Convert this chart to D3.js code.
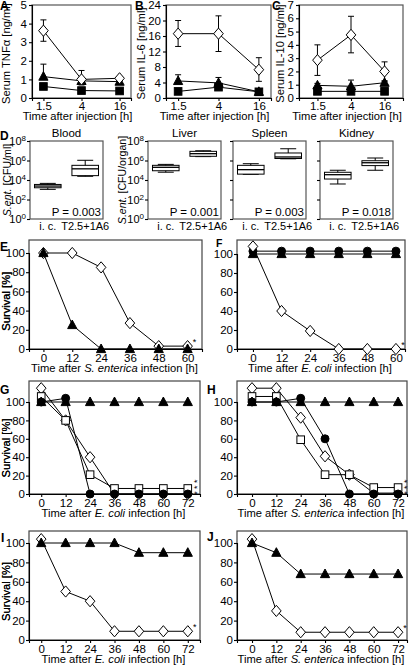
<!DOCTYPE html>
<html><head><meta charset="utf-8">
<script src="https://cdn.jsdelivr.net/npm/d3@7"></script>
<style>
body{margin:0;background:#fff}
svg{display:block;font-family:"Liberation Sans",Arial,Helvetica,sans-serif}
</style></head>
<body><svg id="c" width="411" height="668"></svg>
<script>
// ---------- data: cytokines (A-C) ----------
const cytoTimes = ["1.5", "4", "16"];
const tnfDiamond = [3.62, 1.0, 1.06], tnfDiamondHi = [4.2, 1.48, 1.15], tnfDiamondLo = [3.05, 0.7, 0.95];
const tnfTriangle = [1.15, 0.92, 0.88], tnfTriangleHi = [1.82, 1.0, 0.95];
const tnfSquare = [0.62, 0.4, 0.38];
const il6Diamond = [16.6, 16.6, 7.3], il6DiamondHi = [20.0, 21.2, 10.4], il6DiamondLo = [13.3, 12.0, 4.3];
const il6Triangle = [4.4, 3.9, 1.6], il6TriangleHi = [6.0, 5.3, 1.6];
const il6Square = [1.7, 2.8, 1.6], il6SquareHi = [1.7, 3.3, 1.6];
const il10Diamond = [2.85, 4.75, 2.0], il10DiamondHi = [4.0, 6.15, 2.72], il10DiamondLo = [1.7, 3.4, 1.25];
const il10Triangle = [0.95, 0.88, 1.15], il10TriangleHi = [1.1, 1.35, 1.3];
const il10Square = [0.5, 0.5, 0.5];
const tnfTicks = [0, 1, 2, 3, 4, 5];
const il6Ticks = [0, 4, 8, 12, 16, 20, 24];
const il10Ticks = [0, 1, 2, 3, 4, 5, 6, 7];

// ---------- data: bacterial load (D) ----------
const organs = ["Blood", "Liver", "Spleen", "Kidney"];
const groups = ["i. c.", "T2.5+1A6"];
const pValues = ["P = 0.003", "P = 0.001", "P = 0.003", "P = 0.018"];
// [whisker low, Q1, median, Q3, whisker high] in CFU
const bloodIc = [1.1e3, 1.6e3, 2.4e3, 3.5e3, 4.5e3];
const bloodT = [2.4e4, 2.8e4, 1.4e5, 3.2e5, 1.05e6];
const liverIc = [6.3e4, 8.9e4, 2.0e5, 3.2e5, 4.0e5];
const liverT = [2.5e6, 2.7e6, 5.0e6, 8.7e6, 1.0e7];
const spleenIc = [3.8e4, 4.0e4, 1.15e5, 3.2e5, 4.7e5];
const spleenT = [1.5e6, 1.6e6, 2.3e6, 5.9e6, 1.6e7];
const kidneyIc = [3.9e3, 1.26e4, 3.5e4, 6.2e4, 1.0e5];
const kidneyT = [1.0e5, 3.0e5, 5.9e5, 9.5e5, 1.8e6];
const logTicks = [1, 1e2, 1e4, 1e6, 1e8];

// ---------- data: survival (E-J) ----------
const timesE = [0, 12, 24, 36, 48, 60];
const eDiamond = [100, 100, 85, 27, 3, 3];
const eTriangle = [100, 25, 0, 0, 0, 0];
const fDiamond = [108, 40, 19, 0, 0, 0];
const fTriangle = [100, 100, 100, 100, 100, 100];
const fCircle = [103, 103, 103, 103, 103, 103];
const timesG = [0, 12, 24, 36, 48, 60, 72];
const gTriangle = [100, 100, 100, 100, 100, 100, 100];
const gDiamond = [115, 80, 40, 0, 0, 0, 0];
const gSquare = [106, 80, 21, 6, 6, 6, 6];
const gCircle = [100, 104, 0, 0, 0, 0, 0];
const hTriangle = [100, 100, 100, 100, 100, 100, 100];
const hDiamond = [115, 115, 83, 41, 21, 1, 1];
const hSquare = [106, 106, 59, 21, 21, 7, 7];
const hCircle = [100, 100, 104, 60, 0, 0, 0];
const iTriangle = [100, 100, 100, 100, 90, 90, 90];
const iDiamond = [104, 50, 40, 9, 9, 9, 9];
const jTriangle = [100, 90, 68, 68, 68, 68, 68];
const jDiamond = [104, 30, 8, 8, 8, 8, 8];
const survTicks = [0, 20, 40, 60, 80, 100];

// ---------- drawing ----------
const svg = d3.select("#c");
const FS = 11.5;

function marker(g, type, x, y) {
  let s;
  if (type === "diamond") {
    s = g.append("path").attr("d", "M0,-5.6L4.8,0L0,5.6L-4.8,0Z").attr("fill", "#fff");
  } else if (type === "triangle") {
    s = g.append("path").attr("d", "M0,-5L4.6,3.6L-4.6,3.6Z").attr("fill", "#000");
  } else if (type === "square") {
    s = g.append("rect").attr("x", -3.8).attr("y", -3.8).attr("width", 7.6).attr("height", 7.6).attr("fill", "#000");
  } else if (type === "squareOpen") {
    s = g.append("rect").attr("x", -3.8).attr("y", -3.8).attr("width", 7.6).attr("height", 7.6).attr("fill", "#fff");
  } else {
    s = g.append("circle").attr("r", 4).attr("fill", "#000");
  }
  s.attr("transform", `translate(${x},${y})`).attr("stroke", "#000").attr("stroke-width", 1);
}

function styleAxis(ax) {
  ax.selectAll("path.domain").attr("stroke", "#000").attr("stroke-width", 1.1);
  ax.selectAll(".tick line").attr("stroke", "#000").attr("stroke-width", 1.1);
  ax.selectAll("text").attr("font-size", FS).attr("fill", "#000").attr("font-weight", "normal")
    .attr("font-family", '"Liberation Sans",Arial,sans-serif');
}

function richText(g, x, y, parts, opts = {}) {
  const t = g.append("text").attr("x", x).attr("y", y).attr("font-size", opts.size || 11.2)
    .attr("text-anchor", "middle").attr("fill", "#000").attr("font-weight", "normal");
  if (opts.rotate) t.attr("transform", `rotate(-90,${x},${y})`);
  parts.forEach(p => t.append("tspan").text(p[0]).attr("font-style", p[1] ? "italic" : "normal"));
  return t;
}

function letter(txt, x, y, size) {
  svg.append("text").attr("x", x).attr("y", y).text(txt).attr("font-weight", "bold")
    .attr("font-size", size || 12).attr("fill", "#000");
}

// ---- A-C ----
function cytoPanel(c) {
  const g = svg.append("g");
  const x = d3.scalePoint().domain(cytoTimes).range([c.left, c.right]).padding(c.pad);
  const y = d3.scaleLinear().domain([0, c.ymax]).range([c.bottom, c.top]);
  g.append("rect").attr("x", c.left).attr("y", c.top).attr("width", c.right - c.left)
    .attr("height", c.bottom - c.top).attr("fill", "none").attr("stroke", "#555").attr("stroke-width", 1.2);
  const ax = g.append("g").attr("transform", `translate(0,${c.bottom})`)
    .call(d3.axisBottom(x).tickSize(3).tickPadding(1));
  styleAxis(ax);
  const ay = g.append("g").attr("transform", `translate(${c.left},0)`)
    .call(d3.axisLeft(y).tickValues(c.ticks).tickSize(3).tickPadding(2).tickFormat(d3.format("d")));
  styleAxis(ay);
  c.series.forEach(s => {
    cytoTimes.forEach((t, i) => {
      const hi = s.hi ? s.hi[i] : s.vals[i];
      const lo = s.lo ? s.lo[i] : s.vals[i];
      if (hi - lo > 0.0001) {
        const xx = x(t);
        g.append("line").attr("x1", xx).attr("x2", xx).attr("y1", y(hi)).attr("y2", y(lo)).attr("stroke", "#000");
        [hi, lo].forEach(v => { if (v !== s.vals[i]) g.append("line").attr("x1", xx - 3).attr("x2", xx + 3)
          .attr("y1", y(v)).attr("y2", y(v)).attr("stroke", "#000"); });
      }
    });
    g.append("path").datum(s.vals).attr("fill", "none").attr("stroke", "#000").attr("stroke-width", 1)
      .attr("d", d3.line().x((d, i) => x(cytoTimes[i])).y(d => y(d)));
  });
  c.series.forEach(s => s.vals.forEach((v, i) => marker(g, s.type, x(cytoTimes[i]), y(v))));
  richText(g, c.labelX, (c.top + c.bottom) / 2 + 2, [[c.ylabel, false]], { rotate: true });
  richText(g, (c.left + c.right) / 2 - 4, 120, [["Time after injection [h]", false]]);
}

cytoPanel({ left: 32, right: 131, top: 5, bottom: 98, ymax: 5, ticks: tnfTicks, pad: 0.3, labelX: 10,
  ylabel: "Serum TNFα [ng/ml]",
  series: [{ vals: tnfSquare, type: "square" },
           { vals: tnfTriangle, hi: tnfTriangleHi, type: "triangle" },
           { vals: tnfDiamond, hi: tnfDiamondHi, lo: tnfDiamondLo, type: "diamond" }] });
cytoPanel({ left: 166, right: 271, top: 5, bottom: 98, ymax: 24, ticks: il6Ticks, pad: 0.3, labelX: 145,
  ylabel: "Serum IL-6 [ng/ml]",
  series: [{ vals: il6Square, hi: il6SquareHi, type: "square" },
           { vals: il6Triangle, hi: il6TriangleHi, type: "triangle" },
           { vals: il6Diamond, hi: il6DiamondHi, lo: il6DiamondLo, type: "diamond" }] });
cytoPanel({ left: 299, right: 403, top: 5, bottom: 98, ymax: 7, ticks: il10Ticks, pad: 0.55, labelX: 284,
  ylabel: "Serum IL-10 [ng/ml]",
  series: [{ vals: il10Square, type: "square" },
           { vals: il10Triangle, hi: il10TriangleHi, type: "triangle" },
           { vals: il10Diamond, hi: il10DiamondHi, lo: il10DiamondLo, type: "diamond" }] });
letter("A", 0, 10); letter("B", 135, 10); letter("C", 272, 10);

// ---- D ----
const organData = [[bloodIc, bloodT], [liverIc, liverT], [spleenIc, spleenT], [kidneyIc, kidneyT]];
const organLefts = [30, 148, 233, 320];
const labelOffsets = [19, 22];
const organW = 73;
const dTop = 141, dBottom = 219;
const supers = { 1: "0", 100: "2", 10000: "4", 1000000: "6", 100000000: "8" };
organs.forEach((name, k) => {
  const g = svg.append("g");
  const L = organLefts[k], R = L + organW;
  const x = d3.scaleBand().domain(groups).range([L, R]).paddingInner(0.29).paddingOuter(0.12);
  const y = d3.scaleLog().domain([1, 1e8]).range([dBottom, dTop]);
  g.append("rect").attr("x", L).attr("y", dTop).attr("width", organW).attr("height", dBottom - dTop)
    .attr("fill", "none").attr("stroke", "#555").attr("stroke-width", 1.2);
  const ay = g.append("g").attr("transform", `translate(${L},0)`)
    .call(d3.axisLeft(y).tickValues(logTicks).tickSize(3).tickPadding(1).tickFormat(() => ""));
  styleAxis(ay);
  ay.select("path.domain").remove();
  if (k < 2) {
    ay.selectAll(".tick text").each(function (d) {
      const t = d3.select(this);
      t.append("tspan").text("10").attr("font-size", 11);
      t.append("tspan").text(supers[d]).attr("font-size", 8).attr("dy", "-0.5em");
    });
    richText(g, L - labelOffsets[k], (dTop + dBottom) / 2, k === 0 ? [["S.ent.", true], [" [CFU/ml]", false]]
      : [["S.ent.", true], [" [CFU/organ]", false]], { rotate: true, size: 10.6 });
  }
  const ax = g.append("g").attr("transform", `translate(0,${dBottom})`)
    .call(d3.axisBottom(x).tickSize(0).tickPadding(3));
  styleAxis(ax);
  ax.select("path.domain").remove();
  ax.selectAll("text").attr("font-size", 11);
  organData[k].forEach((st, j) => {
    const bx = x(groups[j]), bw = x.bandwidth(), cx = bx + bw / 2;
    g.append("line").attr("x1", cx).attr("x2", cx).attr("y1", y(st[0])).attr("y2", y(st[4])).attr("stroke", "#000");
    [st[0], st[4]].forEach(v => g.append("line").attr("x1", cx - bw * 0.3).attr("x2", cx + bw * 0.3)
      .attr("y1", y(v)).attr("y2", y(v)).attr("stroke", "#000"));
    g.append("rect").attr("x", bx).attr("y", y(st[3])).attr("width", bw).attr("height", y(st[1]) - y(st[3]))
      .attr("fill", "#fff").attr("stroke", "#000");
    g.append("line").attr("x1", bx).attr("x2", bx + bw).attr("y1", y(st[2])).attr("y2", y(st[2]))
      .attr("stroke", "#000").attr("stroke-width", 1.3);
  });
  g.append("text").attr("x", (L + R) / 2).attr("y", dTop - 4).attr("text-anchor", "middle")
    .attr("font-size", 11.5).text(name);
  g.append("text").attr("x", R - 2).attr("y", dBottom - 3).attr("text-anchor", "end")
    .attr("font-size", 11.5).text(pValues[k]);
});
letter("D", 0, 140);

// ---- E-J ----
function survPanel(c) {
  const g = svg.append("g");
  const x = d3.scaleLinear().domain(c.xd).range([c.left, c.right]);
  const y = d3.scaleLinear().domain([0, 100]).range([c.y0, c.y100]);
  g.append("rect").attr("x", c.left).attr("y", c.top).attr("width", c.right - c.left)
    .attr("height", c.y0 - c.top).attr("fill", "none").attr("stroke", "#444").attr("stroke-width", 1.2);
  const ax = g.append("g").attr("transform", `translate(0,${c.y0})`)
    .call(d3.axisBottom(x).tickValues(c.times).tickSize(3).tickPadding(2));
  styleAxis(ax);
  const ay = g.append("g").attr("transform", `translate(${c.left},0)`)
    .call(d3.axisLeft(y).tickValues(survTicks).tickSize(3).tickPadding(1));
  styleAxis(ay);
  c.series.forEach(s => g.append("path").datum(s.vals).attr("fill", "none").attr("stroke", "#000")
    .attr("stroke-width", 1).attr("d", d3.line().x((d, i) => x(c.times[i])).y(d => y(d))));
  c.series.forEach(s => s.vals.forEach((v, i) => marker(g, s.type, x(c.times[i]), y(v))));
  const lastT = c.times[c.times.length - 1];
  if (c.stars > 1) {
    const sx = x(lastT) + 9, sy = y(c.starAt) - 8;
    g.append("text").attr("x", sx).attr("y", sy).attr("font-size", 9).attr("text-anchor", "middle")
      .attr("dominant-baseline", "central").attr("letter-spacing", 2.3)
      .attr("transform", `rotate(-90,${sx},${sy})`).text("*".repeat(c.stars));
  } else {
    g.append("text").attr("x", x(lastT) + 7).attr("y", y(c.starAt) - 1)
      .attr("font-size", 9).attr("text-anchor", "middle").text("*");
  }
  richText(g, 10, (c.y0 + c.y100) / 2, [["Survival [%]", false]], { rotate: true });
  richText(g, (c.left + c.right) / 2 - 1, c.y0 + 23, c.title);
  letter(c.letter, c.lx, c.ly, c.ls);
}
const tS = [["Time after ", false], ["S. enterica", true], [" infection [h]", false]];
const tE = [["Time after ", false], ["E. coli", true], [" infection [h]", false]];

survPanel({ left: 29, right: 202, top: 240, y0: 349, y100: 253, xd: [-6, 66], times: timesE, title: tS,
  stars: 1, starAt: 3, letter: "E", lx: 0, ly: 251,
  series: [{ vals: eDiamond, type: "diamond" }, { vals: eTriangle, type: "triangle" }] });
survPanel({ left: 237, right: 405, top: 240, y0: 349, y100: 254, xd: [-6.7, 63.8], times: timesE, title: tE,
  stars: 1, starAt: 0, letter: "F", lx: 216, ly: 247, ls: 10.5,
  series: [{ vals: fTriangle, type: "triangle" }, { vals: fCircle, type: "circle" }, { vals: fDiamond, type: "diamond" }] });
survPanel({ left: 29, right: 200, top: 381, y0: 494, y100: 402, xd: [-6, 78], times: timesG, title: tE,
  stars: 3, starAt: 0, letter: "G", lx: 0, ly: 394,
  series: [{ vals: gDiamond, type: "diamond" }, { vals: gSquare, type: "squareOpen" },
           { vals: gCircle, type: "circle" }, { vals: gTriangle, type: "triangle" }] });
survPanel({ left: 237, right: 407, top: 381, y0: 494, y100: 402, xd: [-7.4, 76.4], times: timesG, title: tS,
  stars: 3, starAt: 0, letter: "H", lx: 207, ly: 394,
  series: [{ vals: hDiamond, type: "diamond" }, { vals: hSquare, type: "squareOpen" },
           { vals: hCircle, type: "circle" }, { vals: hTriangle, type: "triangle" }] });
survPanel({ left: 29, right: 200, top: 531, y0: 640, y100: 543, xd: [-6, 78], times: timesG, title: tE,
  stars: 1, starAt: 9, letter: "I", lx: 1, ly: 542,
  series: [{ vals: iDiamond, type: "diamond" }, { vals: iTriangle, type: "triangle" }] });
survPanel({ left: 237, right: 407, top: 531, y0: 640, y100: 543, xd: [-7.4, 76.4], times: timesG, title: tS,
  stars: 1, starAt: 8, letter: "J", lx: 207, ly: 541,
  series: [{ vals: jDiamond, type: "diamond" }, { vals: jTriangle, type: "triangle" }] });
</script></body></html>
